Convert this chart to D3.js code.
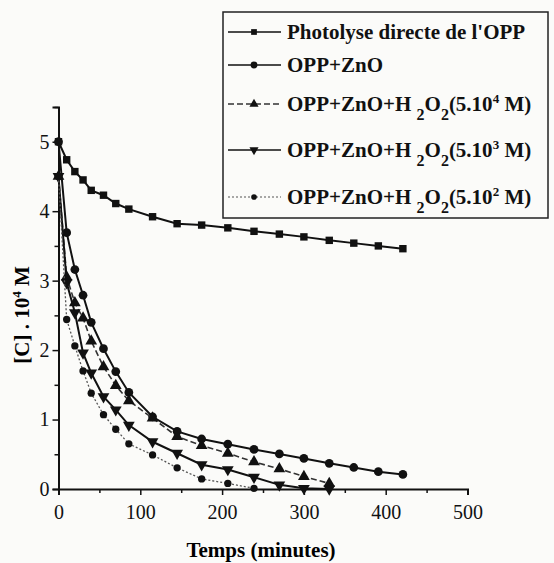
<!DOCTYPE html>
<html>
<head>
<meta charset="utf-8">
<script src="https://cdn.jsdelivr.net/npm/d3@7"></script>
<style>
  body { margin: 0; background: #fbfbf9; }
  svg { display: block; }
  .tick text { font-family: "Liberation Serif", serif; font-size: 20px; fill: #111; }
  .leg text { font-family: "Liberation Serif", serif; font-weight: bold; font-size: 21px; fill: #111; }
</style>
</head>
<body>
<svg id="chart"></svg>
<script>
// times (minutes) shared by every series
const times = [0, 10, 20, 30, 40, 55, 70, 86, 115, 145, 175, 207, 239, 270, 300, 331, 361, 391, 421];

// [C] . 10^4 M
const photolyse = [5.0, 4.74, 4.57, 4.45, 4.30, 4.23, 4.11, 4.03, 3.92, 3.82, 3.80, 3.76, 3.71, 3.67, 3.63, 3.58, 3.54, 3.50, 3.46];
const oppZno = [5.0, 3.69, 3.16, 2.79, 2.40, 2.02, 1.69, 1.39, 1.04, 0.83, 0.72, 0.645, 0.57, 0.505, 0.44, 0.37, 0.31, 0.25, 0.21];
const h2o2_5e4 = [4.5, 3.05, 2.68, 2.46, 2.13, 1.76, 1.49, 1.27, 1.02, 0.755, 0.625, 0.515, 0.39, 0.29, 0.18, 0.08];
const h2o2_5e3 = [4.5, 2.97, 2.54, 1.96, 1.67, 1.33, 1.14, 0.92, 0.68, 0.515, 0.35, 0.28, 0.17, 0.06, 0.01, 0.0];
const h2o2_5e2 = [4.5, 2.44, 2.06, 1.70, 1.38, 1.07, 0.86, 0.65, 0.49, 0.305, 0.145, 0.08, 0.01];

const xTicks = [0, 100, 200, 300, 400, 500];
const xMinor = [50, 150, 250, 350, 450];
const yTicks = [0, 1, 2, 3, 4, 5];
const yMinor = [0.5, 1.5, 2.5, 3.5, 4.5, 5.5];

const series = [
  { name: "photolyse", values: photolyse, symbol: d3.symbolSquare, size: 55, rot: 0, dash: null, stroke: "#111", sw: 2 },
  { name: "zno", values: oppZno, symbol: d3.symbolCircle, size: 60, rot: 0, dash: null, stroke: "#111", sw: 2 },
  { name: "h4", values: h2o2_5e4, symbol: d3.symbolTriangle, size: 60, rot: 0, dash: "6,3", stroke: "#333", sw: 1.6 },
  { name: "h3", values: h2o2_5e3, symbol: d3.symbolTriangle, size: 60, rot: 180, dash: null, stroke: "#111", sw: 2 },
  { name: "h2", values: h2o2_5e2, symbol: d3.symbolCircle, size: 42, rot: 0, dash: "2,2", stroke: "#555", sw: 1.3 }
];

const W = 554, H = 563;
const svg = d3.select("#chart").attr("width", W).attr("height", H);

const x = d3.scaleLinear().domain([0, 500]).range([58.5, 467.5]);
const y = d3.scaleLinear().domain([0, 5.5]).range([489, 107]);

// axes
const gx = svg.append("g").attr("transform", "translate(0," + y(0) + ")");
gx.call(d3.axisBottom(x).tickValues(xTicks).tickSize(6).tickPadding(10).tickFormat(d3.format("d")));
gx.append("g").call(d3.axisBottom(x).tickValues(xMinor).tickSize(4).tickFormat(""));

const gy = svg.append("g").attr("transform", "translate(" + x(0) + ",0)");
gy.call(d3.axisLeft(y).tickValues(yTicks).tickSize(6).tickPadding(3).tickFormat(d3.format("d")));
gy.append("g").call(d3.axisLeft(y).tickValues(yMinor).tickSize(4).tickFormat(""));

svg.selectAll(".domain").attr("stroke", "#111").attr("stroke-width", 2);
svg.selectAll(".tick line").attr("stroke", "#111").attr("stroke-width", 1.5);
gx.selectAll("g g .domain").remove();
gy.selectAll("g g .domain").remove();

// curves
const line = d3.line()
  .defined(d => d != null)
  .x((d, i) => x(times[i]))
  .y(d => y(d));

series.forEach(s => {
  svg.append("path")
    .datum(s.values)
    .attr("fill", "none")
    .attr("stroke", s.stroke)
    .attr("stroke-width", s.sw)
    .attr("stroke-dasharray", s.dash)
    .attr("d", line);

  svg.append("g").selectAll("path")
    .data(s.values)
    .enter().append("path")
    .attr("d", d3.symbol().type(s.symbol).size(s.size))
    .attr("transform", (d, i) => "translate(" + x(times[i]) + "," + y(d) + ") rotate(" + s.rot + ")")
    .attr("fill", "#111");
});

// axis titles
svg.append("text")
  .attr("x", 261).attr("y", 557)
  .attr("text-anchor", "middle")
  .style("font-family", "Liberation Serif, serif")
  .style("font-weight", "bold")
  .style("font-size", "21px")
  .text("Temps (minutes)");

const yt = svg.append("text")
  .attr("transform", "translate(29,315) rotate(-90)")
  .attr("text-anchor", "middle")
  .style("font-family", "Liberation Serif, serif")
  .style("font-weight", "bold")
  .style("font-size", "21px");
yt.append("tspan").text("[C] . 10");
yt.append("tspan").attr("dy", -8).style("font-size", "13px").text("4");
yt.append("tspan").attr("dy", 8).text(" M");

// legend
const leg = svg.append("g").attr("class", "leg");
leg.append("rect")
  .attr("x", 223).attr("y", 12).attr("width", 325).attr("height", 206)
  .attr("fill", "none").attr("stroke", "#222").attr("stroke-width", 1.5);

const rowY = [32, 65, 104, 150, 197];
const labels = [
  ["Photolyse directe de l'OPP"],
  ["OPP+ZnO"],
  ["OPP+ZnO+H ", "2", "O", "2", "(5.10", "4", " M)"],
  ["OPP+ZnO+H ", "2", "O", "2", "(5.10", "3", " M)"],
  ["OPP+ZnO+H ", "2", "O", "2", "(5.10", "2", " M)"]
];

series.forEach((s, i) => {
  const ry = rowY[i];
  leg.append("line")
    .attr("x1", 228).attr("x2", 281).attr("y1", ry).attr("y2", ry)
    .attr("stroke", s.stroke).attr("stroke-width", s.sw * 0.8)
    .attr("stroke-dasharray", s.dash);
  leg.append("path")
    .attr("d", d3.symbol().type(s.symbol).size(s.size * 0.6))
    .attr("transform", "translate(254," + ry + ") rotate(" + s.rot + ")")
    .attr("fill", "#111");

  const t = leg.append("text").attr("x", 287).attr("y", ry + 7);
  const parts = labels[i];
  if (parts.length === 1) {
    t.text(parts[0]);
  } else {
    t.append("tspan").text(parts[0]);
    t.append("tspan").attr("dy", 9).style("font-size", "16px").text(parts[1]);
    t.append("tspan").attr("dy", -9).text(parts[2]);
    t.append("tspan").attr("dy", 9).style("font-size", "16px").text(parts[3]);
    t.append("tspan").attr("dy", -9).text(parts[4]);
    t.append("tspan").attr("dy", -8).style("font-size", "13px").text(parts[5]);
    t.append("tspan").attr("dy", 8).text(parts[6]);
  }
});
</script>
</body>
</html>
